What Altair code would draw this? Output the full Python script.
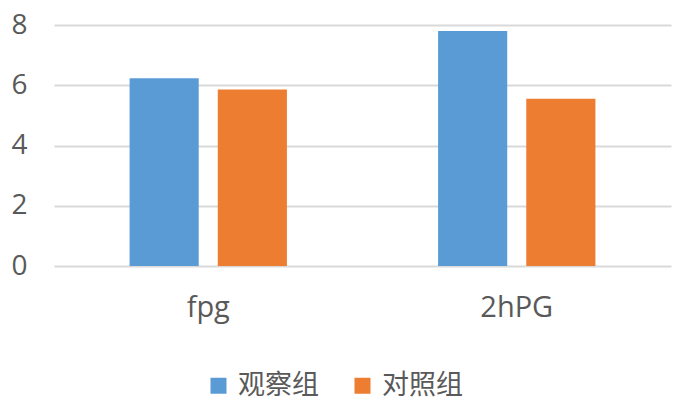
import altair as alt
import pandas as pd

categories = ["fpg", "2hPG"]
groups = ["观察组", "对照组"]
observe_values = [6.23, 7.80]
control_values = [5.86, 5.55]
y_ticks = [0, 2, 4, 6, 8]
colors = ["#5B9BD5", "#ED7D31"]

rows = []
for i, c in enumerate(categories):
    rows.append({"category": c, "group": groups[0], "value": observe_values[i]})
    rows.append({"category": c, "group": groups[1], "value": control_values[i]})
df = pd.DataFrame(rows)

chart = alt.Chart(df).mark_bar().encode(
    x=alt.X("category:N", sort=categories,
            scale=alt.Scale(paddingInner=0.49, paddingOuter=0.245),
            axis=alt.Axis(title=None, labelAngle=0, ticks=False, domain=False,
                          labelFontSize=29, labelColor="#595959", labelPadding=50,
                          labelBaseline="alphabetic", labelFont="Open Sans")),
    xOffset=alt.XOffset("group:N", sort=groups,
                        scale=alt.Scale(paddingInner=0.216, paddingOuter=0)),
    y=alt.Y("value:Q", scale=alt.Scale(domain=[0, 8]),
            axis=alt.Axis(values=y_ticks, title=None, ticks=False, domain=False,
                          gridColor="#D9D9D9", gridWidth=2,
                          labelFontSize=28, labelColor="#595959", labelPadding=27,
                          labelFont="Open Sans")),
    color=alt.Color("group:N", sort=groups,
                    scale=alt.Scale(domain=groups, range=colors),
                    legend=alt.Legend(title=None, orient="none", legendX=151, legendY=347,
                                      direction="horizontal", symbolType="square",
                                      symbolSize=256, symbolStrokeWidth=0,
                                      labelFontSize=27, labelFont="Noto Sans CJK SC",
                                      labelColor="#595959", columnPadding=30,
                                      labelOffset=6, padding=0)),
).properties(
    width=617, height=241,
    autosize=alt.AutoSizeParams(type="none"),
    padding={"left": 54, "top": 25, "right": 5, "bottom": 135},
).configure_view(stroke=None)

chart.save("out.html", embed_options={"renderer": "svg", "actions": False})
